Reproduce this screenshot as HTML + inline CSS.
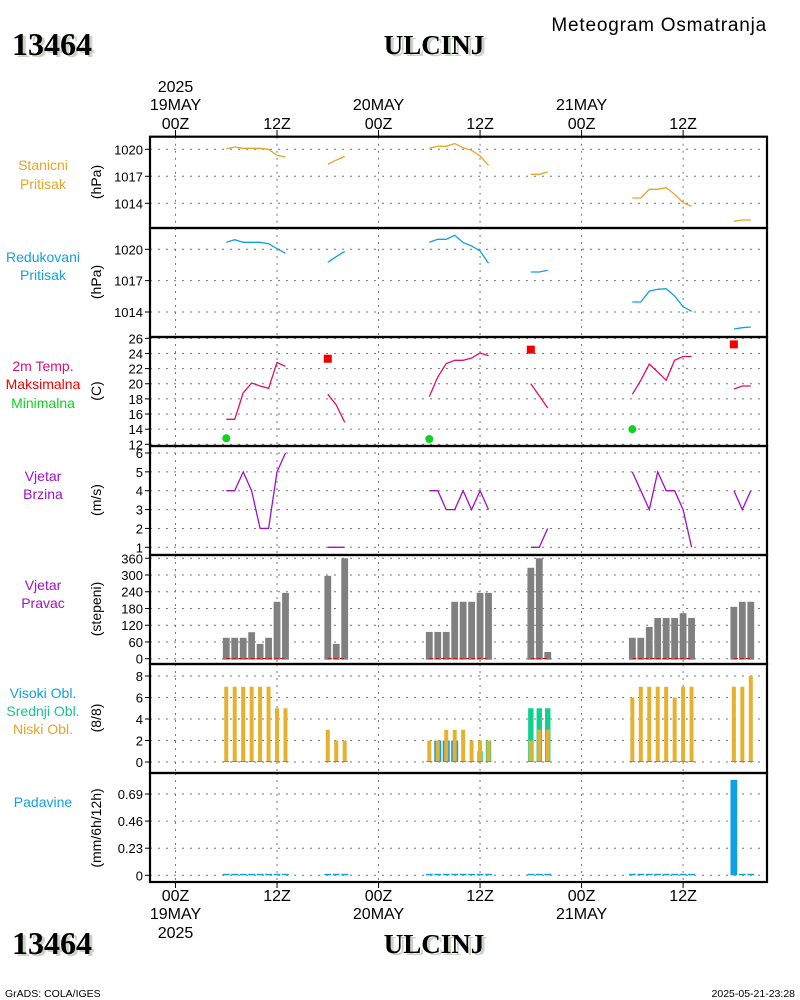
<!DOCTYPE html>
<html><head><meta charset="utf-8"><title>Meteogram Osmatranja - ULCINJ</title>
<style>
html,body{margin:0;padding:0;background:#fff;}
svg{display:block;font-family:"Liberation Sans",sans-serif;}
</style></head>
<body>
<svg id="chart" width="800" height="1000" viewBox="0 0 800 1000" xmlns="http://www.w3.org/2000/svg">
<rect width="800" height="1000" fill="#fff"/>
<g>
  <text x="15" y="57" font-family="Liberation Serif,serif" font-weight="bold" font-size="32" fill="#c8d4c4">13464</text>
  <text x="12" y="55" font-family="Liberation Serif,serif" font-weight="bold" font-size="32" fill="#000">13464</text>
  <text x="437" y="56" text-anchor="middle" font-family="Liberation Serif,serif" font-weight="bold" font-size="27" fill="#c8d4c4">ULCINJ</text>
  <text x="434" y="54" text-anchor="middle" font-family="Liberation Serif,serif" font-weight="bold" font-size="27" fill="#000">ULCINJ</text>
  <text x="767" y="31" text-anchor="end" font-size="19" letter-spacing="0.8" fill="#000">Meteogram Osmatranja</text>
</g>
<g>
  <text x="15" y="956" font-family="Liberation Serif,serif" font-weight="bold" font-size="32" fill="#c8d4c4">13464</text>
  <text x="12" y="954" font-family="Liberation Serif,serif" font-weight="bold" font-size="32" fill="#000">13464</text>
  <text x="437" y="955" text-anchor="middle" font-family="Liberation Serif,serif" font-weight="bold" font-size="27" fill="#c8d4c4">ULCINJ</text>
  <text x="434" y="953" text-anchor="middle" font-family="Liberation Serif,serif" font-weight="bold" font-size="27" fill="#000">ULCINJ</text>
  <text x="5" y="997" font-size="10.5" fill="#000">GrADS: COLA/IGES</text>
  <text x="795" y="997" text-anchor="end" font-size="10.5" fill="#000">2025-05-21-23:28</text>
</g>
<g id="plots"></g>
</svg>
<script>
// ---- data ----
const hours = [6,7,8,9,10,11,12,13, 18,19,20, 30,31,32,33,34,35,36,37, 42,43,44, 54,55,56,57,58,59,60,61, 66,67,68];
const stationPressure = [1020.07,1020.26,1020.11,1020.11,1020.11,1020.0,1019.33,1019.15, 1018.33,1018.8,1019.2, 1020.11,1020.33,1020.33,1020.63,1020.18,1019.89,1019.26,1018.22, 1017.22,1017.22,1017.48, 1014.59,1014.59,1015.56,1015.56,1015.74,1015.0,1014.07,1013.67, 1012.0,1012.15,1012.15];
const reducedPressure = [1020.67,1020.92,1020.67,1020.67,1020.67,1020.54,1020.06,1019.62, 1018.76,1019.29,1019.8, 1020.67,1020.96,1020.96,1021.34,1020.64,1020.32,1019.84,1018.66, 1017.83,1017.83,1017.99, 1014.96,1014.96,1016.0,1016.17,1016.23,1015.53,1014.5,1014.07, 1012.37,1012.5,1012.56];
const temperature = [15.3,15.3,18.8,20.1,19.7,19.4,22.8,22.3, 18.6,17.2,14.9, 18.3,20.9,22.65,23.1,23.1,23.4,24.06,23.7, 20.0,18.4,16.8, 18.6,20.45,22.6,21.55,20.45,23.1,23.6,23.6, 19.3,19.7,19.7];
const tmaxHours = [18,42,66];
const tmaxValues = [23.3,24.5,25.2];
const tminHours = [6,30,54];
const tminValues = [12.8,12.7,14.0];
const windSpeed = [4,4,5,4,2,2,5,6, 1,1,1, 4,4,3,3,4,3,4,3, 1,1,2, 5,4,3,5,4,4,3,1, 4,3,4];
const windDir = [75,75,75,95,53,75,204,236, 297,53,360, 96,96,96,204,204,204,236,236, 326,360,24, 75,75,114,146,146,146,163,146, 186,204,204];
const highCloud = [0,0,0,0,0,0,0,0, 0,0,0, 0,2,2,2,0,0,0,0, 0,0,0, 0,0,0,0,0,0,0,0, 0,0,0];
const midCloud = [0,0,0,0,0,0,0,0, 0,0,0, 0,0,0,0,0,0,1,2, 5,5,5, 0,0,0,0,0,0,0,0, 0,0,0];
const lowCloud = [7,7,7,7,7,7,5,5, 3,2,2, 2,2,3,3,3,2,2,2, 2,3,3, 6,7,7,7,7,6,7,7, 7,7,8];
const precip = [0,0,0,0,0,0,0,0, 0,0,0, 0,0,0,0,0,0,0,0, 0,0,0, 0,0,0,0,0,0,0,0, 0.81,0,0];
const timeTicks = [0,12,24,36,48,60];
const timeTickLabels = ["00Z","12Z","00Z","12Z","00Z","12Z"];
const dayLabels = ["19MAY","","20MAY","","21MAY",""];
const pTicks = [1020,1017,1014];
const tTicks = [26,24,22,20,18,16,14,12];
const wsTicks = [6,5,4,3,2,1];
const wdTicks = [360,300,240,180,120,60,0];
const cTicks = [8,6,4,2,0];
const prTicks = [0.69,0.46,0.23,0];

// ---- axes ----
const X0 = 150, X1 = 767;
const xOf = h => 175.5 + h*8.46;
const yP1 = v => 149.3 - (v-1020)*9;
const yP2 = v => 249.3 - (v-1020)*10.45;
const yT = v => 444.3 - (v-12)*7.57;
const yWS = v => 547.3 - (v-1)*18.86;
const yWD = v => 658.7 - v*(83.7/300);
const yC = v => 762 - v*10.75;
const yPr = v => 875.3 - v*(81.3/0.69);
const panels = [[136.7,228],[228,337],[337,446],[446,555],[555,664],[664,773],[773,882]];

const NS = "http://www.w3.org/2000/svg";
const root = document.getElementById('plots');
function mk(tag, attrs, parent){
  const e = document.createElementNS(NS, tag);
  for (const k in attrs) e.setAttribute(k, attrs[k]);
  (parent||root).appendChild(e);
  return e;
}
function txt(s, attrs, parent){ const e = mk('text', attrs, parent); e.textContent = s; return e; }

panels.forEach(([t,b],i)=>{
  const g = mk('g',{});
  
  
  timeTicks.forEach(h=>{
    const l = mk('line',{x1:xOf(h),x2:xOf(h),y1:t,y2:b,stroke:'#777','stroke-width':1,'stroke-dasharray':'2,5'},g);
    
    
  });
});
function hgrid(ticks, yf, fmt, name){
  const g = mk('g',{});
  
  
  ticks.forEach(v=>{
    const y = yf(v);
    const l = mk('line',{x1:X0,x2:X1,y1:y,y2:y,stroke:'#777','stroke-width':1,'stroke-dasharray':'2,6'},g);
    
    
    mk('line',{x1:X0-5,x2:X0,y1:y,y2:y,stroke:'#000','stroke-width':1},g);
    const t = txt(fmt(v),{x:X0-7,y:y+5,'text-anchor':'end','font-size':13,fill:'#000'},g);
    
    
  });
}
hgrid(pTicks, yP1, v=>String(v), 'station-pressure-y-axis');
hgrid(pTicks, yP2, v=>String(v), 'reduced-pressure-y-axis');
hgrid(tTicks, yT, v=>String(v), 'temperature-y-axis');
hgrid(wsTicks, yWS, v=>String(v), 'wind-speed-y-axis');
hgrid(wdTicks, yWD, v=>String(v), 'wind-direction-y-axis');
hgrid(cTicks, yC, v=>String(v), 'cloud-y-axis');
hgrid(prTicks, yPr, v=>String(v), 'precip-y-axis');

function segments(){
  const segs=[]; let cur=[];
  hours.forEach((h,i)=>{
    if (cur.length && h - hours[cur[cur.length-1]] > 1){ segs.push(cur); cur=[]; }
    cur.push(i);
  });
  if (cur.length) segs.push(cur);
  return segs;
}
const segs = segments();
function line(values, yf, color, name){
  segs.forEach(s=>{
    const pts = s.map(i=>xOf(hours[i]).toFixed(1)+','+yf(values[i]).toFixed(1)).join(' ');
    const p = mk('polyline',{points:pts,fill:'none',stroke:color,'stroke-width':1.3});
    
    
  });
}
line(stationPressure, yP1, '#e6a428', 'station-pressure-line');
line(reducedPressure, yP2, '#12a0e0', 'reduced-pressure-line');
line(temperature, yT, '#e0106a', 'temperature-line');
line(windSpeed, yWS, '#a010c8', 'wind-speed-line');

tmaxHours.forEach((h,i)=>{
  const r = mk('rect',{x:xOf(h)-4,y:yT(tmaxValues[i])-4,width:8,height:8,fill:'#f00000'});
  
  
});
tminHours.forEach((h,i)=>{
  const c = mk('circle',{cx:xOf(h),cy:yT(tminValues[i]),r:4,fill:'#10d020'});
  
  
});

hours.forEach((h,i)=>{
  const x = xOf(h);
  const y = yWD(windDir[i]);
  const r = mk('rect',{x:x-3.4,y:y,width:6.8,height:yWD(0)+1-y,fill:'#808080'});
  
  
});
segs.forEach(s=>{
  const a = xOf(hours[s[0]]), b = xOf(hours[s[s.length-1]]);
  const l = mk('line',{x1:a,x2:b,y1:658.5,y2:658.5,stroke:'#d01010','stroke-width':1,'stroke-dasharray':'4,2'});
  
  
});

hours.forEach((h,i)=>{
  const x = xOf(h);
  if (highCloud[i]>0){
    const r = mk('rect',{x:x-3.5,y:yC(highCloud[i]),width:7,height:yC(0)-yC(highCloud[i]),fill:'#10a0e0'});
    
    
  }
  if (midCloud[i]>0){
    const r = mk('rect',{x:x-2.7,y:yC(midCloud[i]),width:5.4,height:yC(0)-yC(midCloud[i]),fill:'#10d090'});
    
    
  }
  if (lowCloud[i]>0){
    const r = mk('rect',{x:x-2,y:yC(lowCloud[i]),width:4,height:yC(0)-yC(lowCloud[i]),fill:'#e6b030'});
    
    
  }
  const d = mk('line',{x1:x-3,x2:x+3,y1:761.5,y2:761.5,stroke:'#10b8d0','stroke-width':1});
  
  
});

hours.forEach((h,i)=>{
  const x = xOf(h);
  const y = yPr(precip[i]);
  const r = mk('rect',{x:x-3.4,y:Math.min(y,yPr(0)-1.5),width:6.8,height:Math.max(yPr(0)-y,1.5),fill:'#10a0e6'});
  
  
});

panels.forEach(([t,b],i)=>{
  const r = mk('rect',{x:X0,y:t,width:X1-X0,height:b-t,fill:'none',stroke:'#000','stroke-width':2.2});
  
  
});

const topAx = mk('g',{});


const botAx = mk('g',{});


timeTicks.forEach((h,i)=>{
  const x = xOf(h);
  mk('line',{x1:x,x2:x,y1:130,y2:137,stroke:'#000'},topAx);
  mk('line',{x1:x,x2:x,y1:882,y2:888,stroke:'#000'},botAx);
  const a = txt(timeTickLabels[i],{x:x,y:129,'text-anchor':'middle','font-size':16,fill:'#000'},topAx);
  
  
  const b = txt(timeTickLabels[i],{x:x,y:901,'text-anchor':'middle','font-size':16,fill:'#000'},botAx);
  
  
  if (dayLabels[i]){
    const c = txt(dayLabels[i],{x:x,y:110,'text-anchor':'middle','font-size':16,fill:'#000'},topAx);
    
    
    const d = txt(dayLabels[i],{x:x,y:919,'text-anchor':'middle','font-size':16,fill:'#000'},botAx);
    
    
  }
});
const y1 = txt('2025',{x:xOf(0),y:92,'text-anchor':'middle','font-size':16,fill:'#000'},topAx);


const y2 = txt('2025',{x:xOf(0),y:938,'text-anchor':'middle','font-size':16,fill:'#000'},botAx);



const labelDefs = [
  [['Stanicni','#e6a428',170],['Pritisak','#e6a428',189]],
  [['Redukovani','#12a0e0',262],['Pritisak','#12a0e0',280]],
  [['2m Temp.','#e0106a',371],['Maksimalna','#f00000',389],['Minimalna','#10d020',408]],
  [['Vjetar','#a010c8',481],['Brzina','#a010c8',499]],
  [['Vjetar','#a010c8',590],['Pravac','#a010c8',608]],
  [['Visoki Obl.','#12a0e0',698],['Srednji Obl.','#10c890',716],['Niski Obl.','#e6a428',734]],
  [['Padavine','#12a0e0',807]]
];
labelDefs.forEach(list=>list.forEach(([s,c,y])=>{
  const t = txt(s,{x:43,y:y,'text-anchor':'middle','font-size':14,fill:c});
  
  
}));
const units = [['(hPa)',182],['(hPa)',282],['(C)',391],['(m/s)',500],['(stepeni)',609],['(8/8)',718],['(mm/6h/12h)',828]];
units.forEach(([s,y])=>{
  const t = txt(s,{x:0,y:0,'text-anchor':'middle','font-size':14,fill:'#000',transform:'translate(101,'+y+') rotate(-90)'});
  
  
});
</script>
</body></html>
